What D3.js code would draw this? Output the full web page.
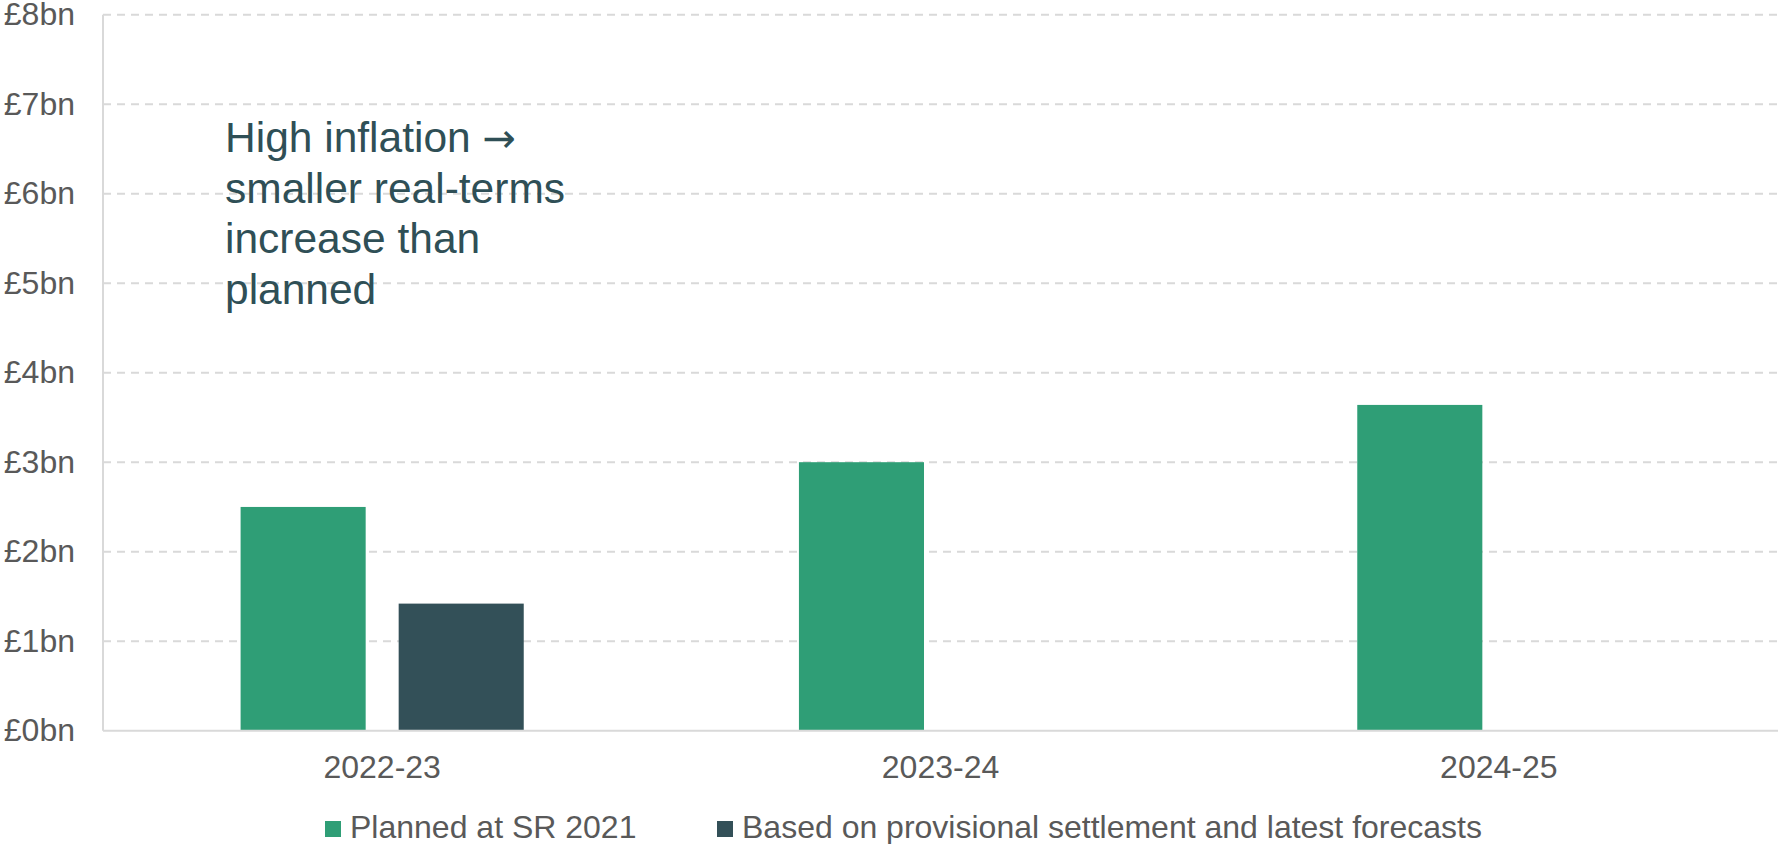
<!DOCTYPE html>
<html>
<head>
<meta charset="utf-8">
<script src="https://cdn.jsdelivr.net/npm/d3@7"></script>
<style>
  html, body { margin: 0; padding: 0; background: #fff; }
  svg { display: block; font-family: "Liberation Sans", Arial, sans-serif; }
</style>
</head>
<body>
<svg id="chart" width="1780" height="844"></svg>
<script>
// Real-terms increase in funding, £bn
const categories = ["2022-23", "2023-24", "2024-25"];
const seriesNames = ["Planned at SR 2021", "Based on provisional settlement and latest forecasts"];
const planned = [2.5, 3.0, 3.64];
const provisional = [1.42, null, null];
const yTicks = [0, 1, 2, 3, 4, 5, 6, 7, 8];
const annotationLines = ["High inflation ", "smaller real-terms", "increase than", "planned"];

const colors = ["#2f9e76", "#335058"];
const textGray = "#595959";
const gridGray = "#d9d9d9";
const labelSize = "32px";

const svg = d3.select("#chart");
const margin = { left: 103, right: 2, top: 14.7, bottom: 113.3 };
const W = 1780, H = 844;
const innerW = W - margin.left - margin.right;
const innerH = H - margin.top - margin.bottom;

const g = svg.append("g").attr("transform", `translate(${margin.left},${margin.top})`);

const x = d3.scaleBand().domain(categories).range([0, innerW]).paddingInner(0).paddingOuter(0);
const y = d3.scaleLinear().domain([0, 8]).range([innerH, 0]);

// Horizontal dashed gridlines
g.append("g").selectAll("line")
  .data(yTicks.filter(d => d > 0))
  .join("line")
  .attr("x1", 0).attr("x2", innerW)
  .attr("y1", d => y(d)).attr("y2", d => y(d))
  .attr("stroke", gridGray).attr("stroke-width", 2)
  .attr("stroke-dasharray", "8,6");

// Y tick labels
const yAxis = d3.axisLeft(y).tickValues(yTicks).tickFormat(d => `£${d}bn`).tickSize(0).tickPadding(28);
const yg = g.append("g").call(yAxis);
yg.select(".domain").remove();
yg.selectAll("text")
  .attr("fill", textGray)
  .style("font-size", labelSize)
  .style("font-family", "Liberation Sans, Arial, sans-serif");

// Bars: two slots per category
const barW = x.bandwidth() * 0.224;
const gap = 33;
const series = [planned, provisional];
series.forEach((vals, si) => {
  g.append("g").selectAll("rect")
    .data(categories.map((c, i) => ({ c, v: vals[i] })).filter(d => d.v != null))
    .join("rect")
    .attr("x", d => x(d.c) + x.bandwidth() / 2 - gap / 2 - barW + si * (barW + gap))
    .attr("width", barW)
    .attr("y", d => y(d.v))
    .attr("height", d => y(0) - y(d.v))
    .attr("fill", colors[si]);
});

// Axis lines
g.append("line").attr("x1", 0).attr("x2", 0).attr("y1", 0).attr("y2", innerH)
  .attr("stroke", gridGray).attr("stroke-width", 2);
g.append("line").attr("x1", 0).attr("x2", innerW).attr("y1", innerH).attr("y2", innerH)
  .attr("stroke", gridGray).attr("stroke-width", 2);

// Category labels
const xAxis = d3.axisBottom(x).tickSize(0).tickPadding(25);
const xg = g.append("g").attr("transform", `translate(0,${innerH})`).call(xAxis);
xg.select(".domain").remove();
xg.selectAll("text")
  .attr("fill", textGray)
  .style("font-size", labelSize)
  .style("font-family", "Liberation Sans, Arial, sans-serif");

// Annotation
const ann = svg.append("text")
  .attr("x", 225).attr("y", 152)
  .attr("fill", "#2f4f56")
  .style("font-size", "42.5px");
ann.selectAll("tspan.line").data(annotationLines).join("tspan")
  .attr("class", "line")
  .attr("x", 225)
  .attr("dy", (d, i) => i === 0 ? 0 : 50.7)
  .text(d => d);
// Arrow glyph after the first line
ann.select("tspan.line").append("tspan")
  .style("font-family", "DejaVu Sans, sans-serif")
  .style("font-size", "40px")
  .text("\u2192");

// Legend
const legendX = [325, 717];
const legend = svg.append("g");
seriesNames.forEach((name, i) => {
  legend.append("rect")
    .attr("x", legendX[i]).attr("y", 821)
    .attr("width", 16).attr("height", 16)
    .attr("fill", colors[i]);
  legend.append("text")
    .attr("x", legendX[i] + 25).attr("y", 838)
    .attr("fill", textGray)
    .style("font-size", labelSize)
    .text(name);
});
</script>
</body>
</html>
